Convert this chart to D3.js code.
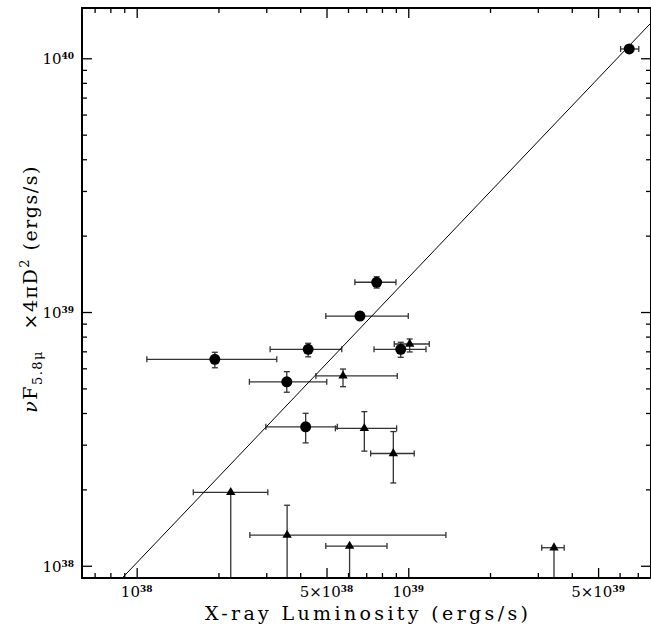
<!DOCTYPE html>
<meta charset="utf-8">
<style>
body { margin: 0; background: #fff; }
text { font-family: 'DejaVu Serif', 'Liberation Serif', serif; fill: #000; }
</style>
<script src="https://d3js.org/d3.v7.min.js"></script>
<div id="chart"></div>
<script>
// filled circles: value, x error range, y error range
var dotX   = [6.51e39, 7.65e38, 6.64e38, 4.28e38, 1.94e38, 3.57e38, 9.38e38, 4.19e38];
var dotY   = [1.088e40, 1.31e39, 9.64e38, 7.13e38, 6.51e38, 5.31e38, 7.13e38, 3.53e38];
var dotXlo = [6.05e39, 6.36e38, 4.97e38, 3.10e38, 1.09e38, 2.60e38, 7.48e38, 2.99e38];
var dotXhi = [7.06e39, 9.01e38, 1.0e39, 5.69e38, 3.28e38, 5.01e38, 1.162e39, 5.48e38];
var dotYlo = [1.06e40, 1.243e39, 9.29e38, 6.66e38, 6.03e38, 4.83e38, 6.63e38, 3.05e38];
var dotYhi = [1.11e40, 1.377e39, 1.0e39, 7.53e38, 6.94e38, 5.82e38, 7.60e38, 3.99e38];

// filled triangles
var triX   = [1.012e39, 5.75e38, 6.89e38, 8.81e38, 2.22e38, 3.58e38, 6.08e38, 3.44e39];
var triY   = [7.48e38, 5.60e38, 3.48e38, 2.77e38, 1.947e38, 1.321e38, 1.196e38, 1.178e38];
var triXlo = [8.88e38, 4.57e38, 5.39e38, 7.27e38, 1.616e38, 2.61e38, 4.97e38, 3.10e39];
var triXhi = [1.195e39, 9.11e38, 9.06e38, 1.052e39, 3.04e38, 1.376e39, 8.35e38, 3.75e39];
var triYlo = [6.96e38, 5.08e38, 2.83e38, 2.12e38, 5e37, 5e37, 5e37, 5e37];
var triYhi = [7.83e38, 5.96e38, 4.05e38, 3.38e38, 1.947e38, 1.732e38, 1.196e38, 1.178e38];

// fitted line end points
var lineX = [8.85e37, 7.76e39];
var lineY = [8.95e37, 1.365e40];

// tick labels
var xLabVals = [1e38, 5e38, 1e39, 5e39];
var xLabPre  = ["", "5\u00d7", "", "5\u00d7"];
var xLabExp  = ["38", "38", "39", "39"];
var yLabVals = [1e38, 1e39, 1e40];
var yLabExp  = ["38", "39", "40"];

var W = 651, H = 633;
var mLeft = 82, mTop = 8, mRight = 651, mBottom = 578;

var svg = d3.select("#chart").append("svg")
    .attr("width", W).attr("height", H);

var x = d3.scaleLog().domain([6.29e37, 7.83e39]).range([mLeft, mRight]);
var y = d3.scaleLog().domain([8.95e37, 1.578e40]).range([mBottom, mTop]);

svg.append("clipPath").attr("id", "clip")
  .append("rect").attr("x", mLeft).attr("y", mTop)
    .attr("width", mRight - mLeft).attr("height", mBottom - mTop);

var plot = svg.append("g").attr("clip-path", "url(#clip)");

// ticks, all inward
function mant(v) { return v / Math.pow(10, Math.floor(Math.log10(v) + 1e-9)); }
function isMajorX(v) { var m = mant(v); return Math.abs(m - 1) < 1e-6 || Math.abs(m - 5) < 1e-6; }
function isMajorY(v) { return Math.abs(mant(v) - 1) < 1e-6; }
var xt = x.ticks(), yt = y.ticks();
var xMinor = xt.filter(function(v) { return !isMajorX(v); });
var xMajor = xt.filter(isMajorX);
var yMinor = yt.filter(function(v) { return !isMajorY(v); });
var yMajor = yt.filter(isMajorY);

function tickStyle(g) {
    g.select(".domain").remove();
    g.selectAll("line").attr("stroke", "#000").attr("stroke-width", 1.3);
}
function addTicks(axisFn, pos, vals, len) {
    svg.append("g").attr("transform", pos)
        .call(axisFn.tickValues(vals).tickSize(-len).tickFormat("")).call(tickStyle);
}
addTicks(d3.axisBottom(x), "translate(0," + mBottom + ")", xMinor, 5);
addTicks(d3.axisBottom(x), "translate(0," + mBottom + ")", xMajor, 10);
addTicks(d3.axisTop(x), "translate(0," + mTop + ")", xMinor, 5);
addTicks(d3.axisTop(x), "translate(0," + mTop + ")", xMajor, 10);
addTicks(d3.axisLeft(y), "translate(" + mLeft + ",0)", yMinor, 5);
addTicks(d3.axisLeft(y), "translate(" + mLeft + ",0)", yMajor, 10);
addTicks(d3.axisRight(y), "translate(" + mRight + ",0)", yMinor, 5);
addTicks(d3.axisRight(y), "translate(" + mRight + ",0)", yMajor, 10);

// tick labels
xLabVals.forEach(function(v, i) {
    var t = svg.append("text").attr("x", x(v)).attr("y", 597)
        .attr("text-anchor", "middle").style("font-size", "15px");
    t.append("tspan").text(xLabPre[i] + "10");
    t.append("tspan").attr("dy", -5).style("font-size", "9px").style("font-weight", "bold").text(xLabExp[i]);
});
yLabVals.forEach(function(v, i) {
    var t = svg.append("text").attr("x", 74).attr("y", y(v) + 6)
        .attr("text-anchor", "end").style("font-size", "15px");
    t.append("tspan").text("10");
    t.append("tspan").attr("dy", -5).style("font-size", "9px").style("font-weight", "bold").text(yLabExp[i]);
});

// error bars
var errCol = "#333", cap = 3;
function errBars(xs, ys, xlo, xhi, ylo, yhi) {
    var g = plot.append("g").attr("stroke", errCol).attr("stroke-width", 1.3).attr("fill", "none");
    xs.forEach(function(v, i) {
        var cx = x(v), cy = y(ys[i]);
        var x0 = x(xlo[i]), x1 = x(xhi[i]);
        g.append("line").attr("x1", x0).attr("x2", x1).attr("y1", cy).attr("y2", cy);
        g.append("line").attr("x1", x0).attr("x2", x0).attr("y1", cy - cap).attr("y2", cy + cap);
        g.append("line").attr("x1", x1).attr("x2", x1).attr("y1", cy - cap).attr("y2", cy + cap);
        var y0 = y(ylo[i]), y1 = y(yhi[i]);
        if (Math.abs(y0 - y1) > 0.5) {
            g.append("line").attr("x1", cx).attr("x2", cx).attr("y1", y0).attr("y2", y1);
            if (y0 < mBottom) g.append("line").attr("x1", cx - cap).attr("x2", cx + cap).attr("y1", y0).attr("y2", y0);
            if (Math.abs(y1 - cy) > 0.5) g.append("line").attr("x1", cx - cap).attr("x2", cx + cap).attr("y1", y1).attr("y2", y1);
        }
    });
}
errBars(dotX, dotY, dotXlo, dotXhi, dotYlo, dotYhi);
errBars(triX, triY, triXlo, triXhi, triYlo, triYhi);

// fitted line
plot.append("line")
    .attr("x1", x(lineX[0])).attr("y1", y(lineY[0]))
    .attr("x2", x(lineX[1])).attr("y2", y(lineY[1]))
    .attr("stroke", "#000").attr("stroke-width", 1);

// markers
plot.append("g").selectAll("circle").data(dotX).enter().append("circle")
    .attr("cx", function(d) { return x(d); })
    .attr("cy", function(d, i) { return y(dotY[i]); })
    .attr("r", 5.5).attr("fill", "#000");

var tri = d3.symbol().type(d3.symbolTriangle).size(38);
plot.append("g").selectAll("path").data(triX).enter().append("path")
    .attr("d", tri)
    .attr("transform", function(d, i) { return "translate(" + x(d) + "," + y(triY[i]) + ")"; })
    .attr("fill", "#000");

// frame
svg.append("rect").attr("x", mLeft).attr("y", mTop)
    .attr("width", mRight - mLeft).attr("height", mBottom - mTop)
    .attr("fill", "none").attr("stroke", "#000").attr("stroke-width", 2);

// axis titles
svg.append("text")
    .attr("x", (mLeft + mRight) / 2).attr("y", 620)
    .attr("text-anchor", "middle")
    .attr("textLength", 323).attr("lengthAdjust", "spacing")
    .style("font-size", "19px")
    .text("X-ray Luminosity (ergs/s)");

var yl = svg.append("text")
    .attr("transform", "translate(37,289) rotate(-90)")
    .attr("text-anchor", "middle")
    .style("font-size", "19px")
    .style("letter-spacing", "1.5px");
yl.append("tspan").style("font-style", "italic").text("\u03bd");
yl.append("tspan").text("F");
yl.append("tspan").attr("dy", 5).style("font-size", "13px").text("5.8\u03bc");
yl.append("tspan").attr("dy", -5).text("\u2003\u00d74\u03c0D");
yl.append("tspan").attr("dy", -8).style("font-size", "13px").text("2");
yl.append("tspan").attr("dy", 8).text(" (ergs/s)");
</script>
